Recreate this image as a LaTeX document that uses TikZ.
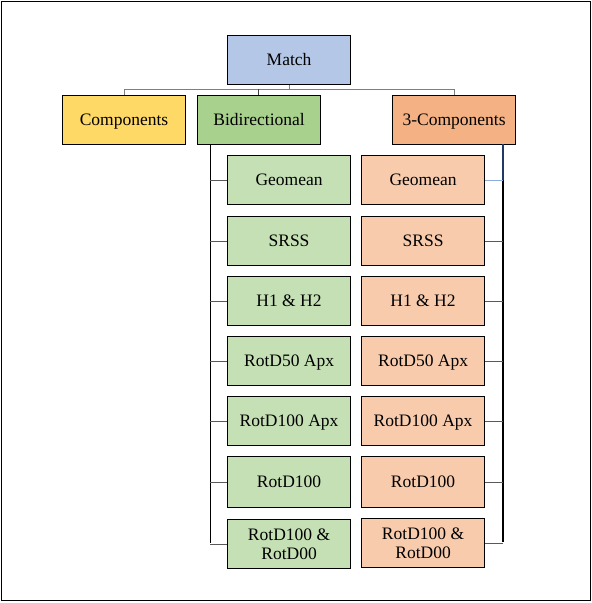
\documentclass[tikz,border=0pt]{standalone}
\usepackage{fontspec}
\setmainfont{Liberation Serif}
\definecolor{cmatch}{HTML}{B4C7E7}
\definecolor{ccomp}{HTML}{FFD966}
\definecolor{cbid}{HTML}{A9D18E}
\definecolor{cthree}{HTML}{F4B183}
\definecolor{cgreen}{HTML}{C5E0B4}
\definecolor{corange}{HTML}{F8CBAD}
\definecolor{cline}{HTML}{7F7F7F}
\definecolor{cnavy}{HTML}{203864}
\definecolor{clblue}{HTML}{8FAADC}
\begin{document}
\begin{tikzpicture}[x=1pt,y=-1pt,
  twobox/.style={draw=black,line width=1.1pt,minimum width=123pt,minimum height=49pt,inner sep=0pt,font=\fontsize{17.5}{19}\selectfont,align=center,anchor=north west},
  box/.style={twobox,text height=11.6pt,text depth=0pt},
  conn/.style={draw=cline,line width=1pt},
  vline/.style={draw=black,line width=1pt}]
\useasboundingbox (0,0) rectangle (592,603);
\draw[black,line width=1pt] (1.5,1.5) rectangle (590.5,600.5);
% top level
\node[box,fill=cmatch] (match) at (227,35) {Match};
\node[box,fill=ccomp] (comp) at (62,95) {Components};
\node[box,fill=cbid] (bid) at (197,95) {Bidirectional};
\node[box,fill=cthree] (three) at (392,95) {3-Components};
% left column
\node[box,fill=cgreen] (l1) at (227,155) {Geomean};
\node[box,fill=cgreen] (l2) at (227,216) {SRSS};
\node[box,fill=cgreen] (l3) at (227,276) {H1 \& H2};
\node[box,fill=cgreen] (l4) at (227,336) {RotD50 Apx};
\node[box,fill=cgreen] (l5) at (227,396) {RotD100 Apx};
\node[box,fill=cgreen,minimum height=51pt] (l6) at (227,456) {RotD100};
\node[twobox,fill=cgreen] (l7) at (227,519) {RotD100 \&\\RotD00};
% right column
\node[box,fill=corange] (r1) at (361,155) {Geomean};
\node[box,fill=corange] (r2) at (361,216) {SRSS};
\node[box,fill=corange] (r3) at (361,276) {H1 \& H2};
\node[box,fill=corange] (r4) at (361,336) {RotD50 Apx};
\node[box,fill=corange] (r5) at (361,396) {RotD100 Apx};
\node[box,fill=corange,minimum height=51pt] (r6) at (361,456) {RotD100};
\node[twobox,fill=corange] (r7) at (361,518) {RotD100 \&\\RotD00};
% top connectors
\coordinate (bus) at (0,89);
\draw[conn] (match.south) -- (match.south |- bus);
\draw[conn] (comp.north) -- (comp.north |- bus) -- (three.north |- bus) -- (three.north);
\draw[conn,draw=black!75] (bid.north -| 258,0) -- (258,89);
% left spine
\coordinate (ls) at (210,144);
\coordinate (le) at (210,543);
\draw[vline] (ls) -- (le);
\foreach \n in {l1,l2,l3,l4,l5,l6,l7}{
  \draw[conn,draw=black!65] (\n.west) -- (\n.west -| ls);
}
% right spine
\coordinate (rs) at (503,144);
\coordinate (rm) at (503,180);
\coordinate (re) at (503,542);
\draw[vline,draw=cnavy,line width=1.5pt] (rs) -- (rm);
\draw[vline,line width=1.5pt] (rm) -- (re);
\draw[conn,draw=clblue] (r1.east) -- (r1.east -| rs);
\foreach \n in {r2,r3,r4,r5,r6,r7}{
  \draw[conn,draw=black!65] (\n.east) -- (\n.east -| rs);
}
\end{tikzpicture}
\end{document}
